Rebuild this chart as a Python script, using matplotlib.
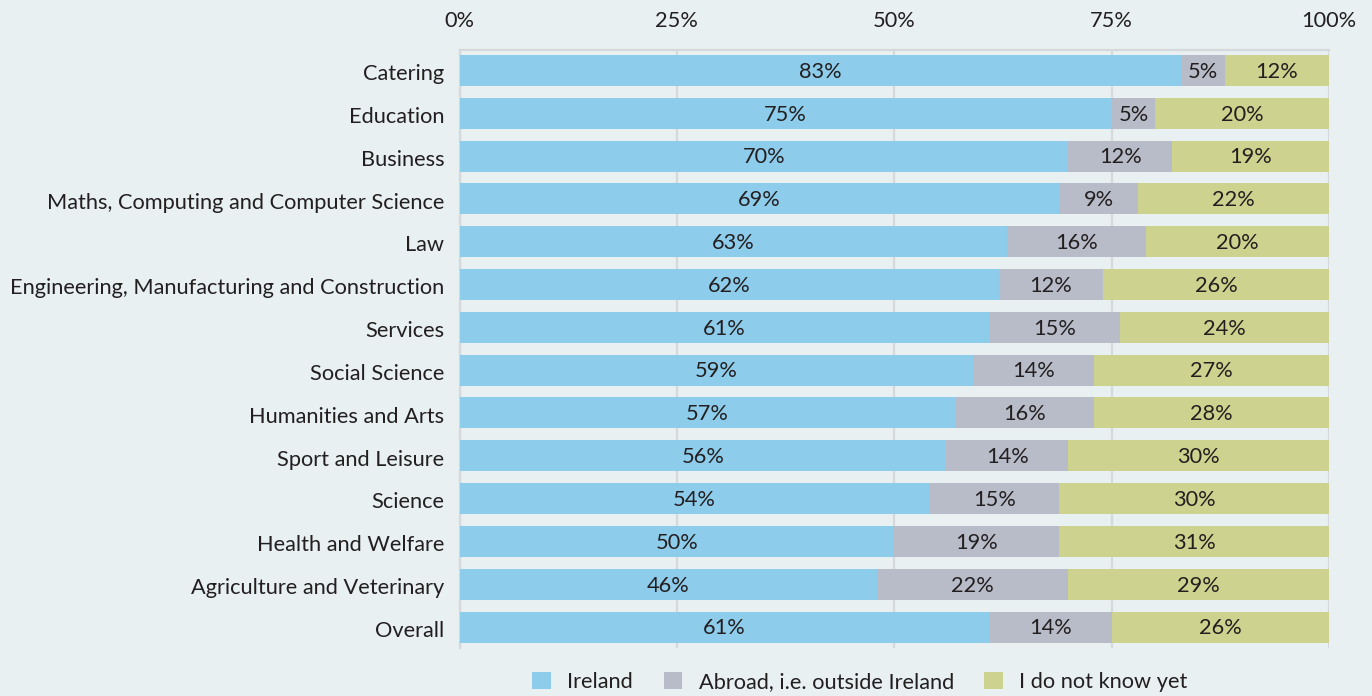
import matplotlib
matplotlib.use("Agg")
import matplotlib.pyplot as plt
from matplotlib.patches import Patch
import numpy as np

categories = ["Catering", "Education", "Business", "Maths, Computing and Computer Science",
              "Law", "Engineering, Manufacturing and Construction", "Services", "Social Science",
              "Humanities and Arts", "Sport and Leisure", "Science", "Health and Welfare",
              "Agriculture and Veterinary", "Overall"]
# bar extents (percent of bar)
ireland = [83, 75, 70, 69, 63, 62, 61, 59, 57, 56, 54, 50, 48, 61]
abroad = [5, 5, 12, 9, 16, 12, 15, 14, 16, 14, 15, 19, 22, 14]
unknown = [12, 20, 18, 22, 21, 26, 24, 27, 27, 30, 31, 31, 30, 25]
# labels as printed on the bars
ireland_lbl = ["83%", "75%", "70%", "69%", "63%", "62%", "61%", "59%", "57%", "56%", "54%", "50%", "46%", "61%"]
abroad_lbl = ["5%", "5%", "12%", "9%", "16%", "12%", "15%", "14%", "16%", "14%", "15%", "19%", "22%", "14%"]
unknown_lbl = ["12%", "20%", "19%", "22%", "20%", "26%", "24%", "27%", "28%", "30%", "30%", "31%", "29%", "26%"]
series_names = ["Ireland", "Abroad, i.e. outside Ireland", "I do not know yet"]
xticks = [0, 25, 50, 75, 100]
xtick_labels = ["0%", "25%", "50%", "75%", "100%"]

colors = ["#8ECCEB", "#B8BCC8", "#CDD28E"]
bg = "#E8F0F2"
txt = "#231F20"
grid_c = "#D5D9DB"

plt.rcParams['font.family'] = ['Lato', 'DejaVu Sans']
fs = 15.7

fig = plt.figure(figsize=(13.72, 6.96), dpi=100, facecolor=bg)
ax = fig.add_axes([459.5/1372, 1-648/696, (1329-459.5)/1372, (648-50)/696])
ax.set_facecolor(bg)

y = np.arange(len(categories))
left = np.zeros(len(categories))
for vals, lbls, c, name in zip([ireland, abroad, unknown], [ireland_lbl, abroad_lbl, unknown_lbl], colors, series_names):
    v = np.array(vals, dtype=float)
    ax.barh(y, v, left=left, height=0.724, color=c, label=name, zorder=3)
    for yi, l, w, s in zip(y, left, v, lbls):
        ax.text(l + w/2, yi + 0.03, s, ha='center', va='center', fontsize=fs, color=txt, zorder=4)
    left = left + v

ax.set_xlim(0, 100)
ax.set_ylim(len(categories) - 1 + 0.49, -0.48)
ax.set_yticks(y + 0.04)
ax.set_yticklabels(categories, fontsize=fs, color=txt)
ax.set_xticks(xticks)
ax.set_xticklabels(xtick_labels, fontsize=fs, color=txt)
ax.xaxis.tick_top()
ax.tick_params(axis='x', length=0, pad=14)
ax.tick_params(axis='y', length=0, pad=11)
ax.grid(axis='x', color=grid_c, linewidth=1.6, zorder=0)
for s in ['right', 'bottom']:
    ax.spines[s].set_visible(False)
for s in ['top', 'left']:
    ax.spines[s].set_color(grid_c)
    ax.spines[s].set_linewidth(1.6)

handles = [Patch(facecolor=c, edgecolor='none') for c in colors]
fig.legend(handles, series_names, loc='center', bbox_to_anchor=(860/1372, 1-682/696), ncol=3,
           frameon=False, fontsize=fs, handlelength=0.85, handleheight=0.85, columnspacing=1.4,
           handletextpad=0.75, labelcolor=txt)

fig.savefig("out.png", dpi=100, facecolor=bg)
